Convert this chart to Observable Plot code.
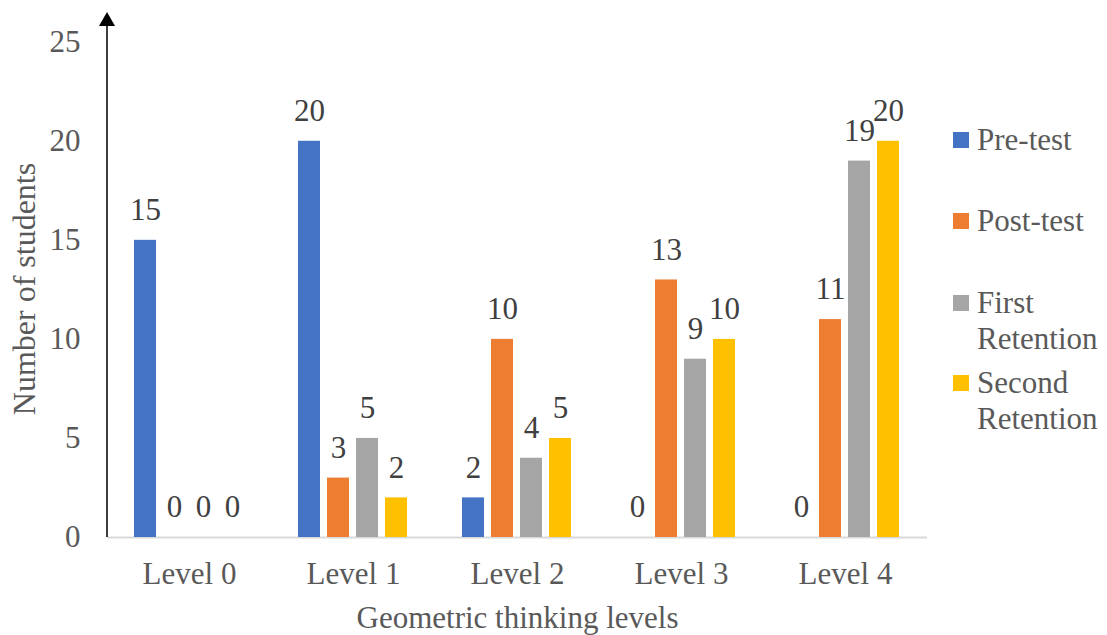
<!DOCTYPE html>
<html><head><meta charset="utf-8">
<script src="https://cdn.jsdelivr.net/npm/d3@7"></script>
<script src="https://cdn.jsdelivr.net/npm/@observablehq/plot@0.6"></script>
<style>
body{margin:0;background:#fff;}
#wrap{position:relative;width:1107px;height:635px;font-family:"Liberation Serif","Times New Roman",serif;}
#legend{position:absolute;left:953px;top:0;color:#595959;font-size:31px;font-family:"Liberation Serif","Times New Roman",serif;}
.item{position:absolute;left:0;width:154px;}
.sw{position:absolute;left:0;top:10px;width:16px;height:16px;}
.lab{position:absolute;left:24px;top:0;width:130px;line-height:36px;white-space:normal;}
</style>
</head><body>
<div id="wrap"></div>
<script>
const levels = ["Level 0","Level 1","Level 2","Level 3","Level 4"];
const series = ["Pre-test","Post-test","First Retention","Second Retention"];
const preTest = [15,20,2,0,0];
const postTest = [0,3,10,13,11];
const firstRetention = [0,5,4,9,19];
const secondRetention = [0,2,5,10,20];
const colors = ["#4472C4","#ED7D31","#A5A5A5","#FFC000"];
const yTicks = [0,5,10,15,20,25];
const xTitle = "Geometric thinking levels";
const yTitle = "Number of students";

const seriesValues = [preTest, postTest, firstRetention, secondRetention];
const rows = [];
levels.forEach((lv,i)=> series.forEach((s,j)=> rows.push({level:lv, series:s, value: seriesValues[j][i]})));

const serif = '"Liberation Serif", "Times New Roman", serif';

const plot = Plot.plot({
  width:1107, height:635,
  marginLeft:107, marginRight:180, marginTop:12, marginBottom:98,
  style:{fontFamily:serif, fontSize:"31px", color:"#595959", background:"white", overflow:"visible"},
  fx:{domain:levels, padding:0, label:null},
  x:{domain:series, paddingInner:0.233, paddingOuter:0.85, axis:null},
  y:{domain:[0,26.5], axis:null},
  color:{domain:series, range:colors},
  marks:[
    Plot.ruleY([0],{stroke:"#d9d9d9", strokeWidth:2}),
    Plot.barY(rows,{fx:"level", x:"series", y:"value", fill:"series"}),
    Plot.text(rows,{fx:"level", x:"series", y:"value", text:d=>String(d.value), dy:-30, fill:"#404040", fontSize:31, fontFamily:serif}),
    Plot.axisY({ticks:yTicks, tickSize:0, tickPadding:27, label:null, fontSize:31, fontFamily:serif}),
    Plot.axisFx({anchor:"bottom", tickSize:0, tickPadding:24, fontSize:31, fontFamily:serif, label:xTitle, labelAnchor:"center", labelOffset:90, labelArrow:false}),
    Plot.text([yTitle],{fx:["Level 0"], frameAnchor:"left", textAnchor:"middle", lineAnchor:"middle", rotate:-90, dx:-83, dy:14, fill:"#595959", fontSize:32, fontFamily:serif})
  ]
});

// y axis line with arrowhead, positioned from the plot's own scales
const ys = plot.scale("y");
const fxs = plot.scale("fx");
const x0 = fxs.range[0];
const yBase = ys.apply(0);
const yTop = ys.apply(ys.domain[1]);
const g = d3.select(plot).append("g");
g.append("line").attr("x1",x0).attr("x2",x0).attr("y1",yBase).attr("y2",yTop+10)
  .attr("stroke","#000").attr("stroke-width",1.5);
g.append("path").attr("d",`M${x0},${yTop}L${x0-8},${yTop+14}L${x0+8},${yTop+14}Z`).attr("fill","#000");

const wrap = document.getElementById("wrap");
wrap.appendChild(plot);

const legend = document.createElement("div");
legend.id = "legend";
const tops = [122,203,285,365];
series.forEach((s,i)=>{
  const it = document.createElement("div");
  it.className = "item";
  it.style.top = tops[i]+"px";
  const sw = document.createElement("div");
  sw.className = "sw"; sw.style.background = colors[i];
  const lab = document.createElement("div");
  lab.className = "lab"; lab.textContent = s;
  it.appendChild(sw); it.appendChild(lab);
  legend.appendChild(it);
});
wrap.appendChild(legend);
</script>
</body></html>
